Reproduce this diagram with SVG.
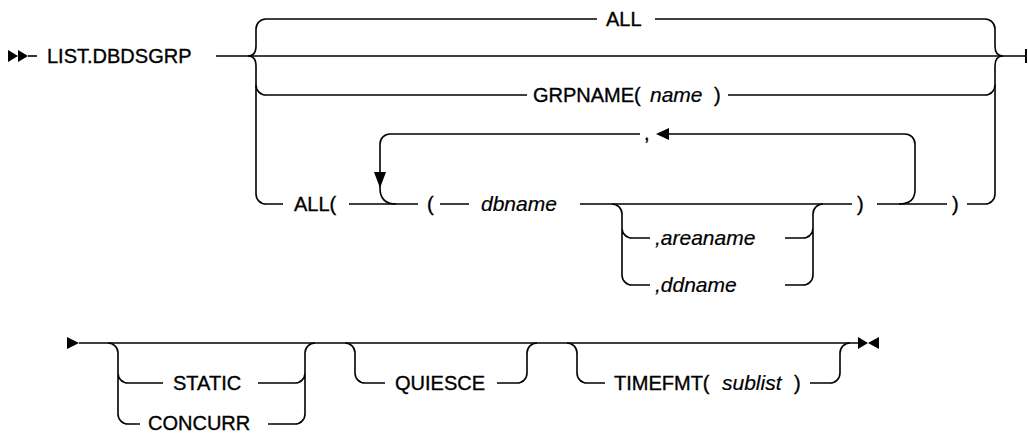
<svg xmlns="http://www.w3.org/2000/svg" width="1028" height="433" viewBox="0 0 1028 433">
<style>
  .ln{fill:none;stroke:#000;stroke-width:1.6}
  .mk{fill:#000;stroke:none}
  text{font-family:"Liberation Sans",Arial,sans-serif;font-size:20px;fill:#000;stroke:#000;stroke-width:0.35}
  .it{font-style:italic;font-size:21px;stroke-width:0.2}
</style>
<rect width="1028" height="433" fill="#fff"/>
<g id="connectors">
  <polygon class="mk" points="8,50 8,62 18,56"/>
  <polygon class="mk" points="18,50 18,62 28,56"/>
  <path class="ln" d="M28 56 H37"/>
  <path class="ln" d="M216 56 H1026"/>
  <path class="ln" d="M1026 49 V63" style="stroke-width:2"/>
  <path class="ln" d="M266 19 A10 10 0 0 0 256 29 V46 Q256 56 248 56 Q256 56 256 66 V85 A10 10 0 0 0 266 95"/>
  <path class="ln" d="M256 85 V194 A10 10 0 0 0 266 204 H283"/>
  <path class="ln" d="M985 19 A10 10 0 0 1 995 29 V46 Q995 56 1003 56 Q995 56 995 66 V85 A10 10 0 0 1 985 95"/>
  <path class="ln" d="M995 85 V194 A10 10 0 0 1 985 204"/>
  <path class="ln" d="M266 19 H597 M655 19 H985"/>
  <path class="ln" d="M266 95 H527 M728 95 H985"/>
  <path class="ln" d="M349 204 H418 M440 204 H469 M580 204 H852 M877 204 H947 M967 204 H985"/>
  <path class="ln" d="M640 134 H390 A10 10 0 0 0 380 144 V188 Q380 204 396 204"/>
  <polygon class="mk" points="374,172 386,172 380,188"/>
  <path class="ln" d="M668 134 H905 A10 10 0 0 1 915 144 V190 Q915 204 899 204"/>
  <polygon class="mk" points="656,134 669,128 669,140"/>
  <path class="ln" d="M612 204 A10 10 0 0 1 622 214 V275 A10 10 0 0 0 632 285 H650 M622 228 A10 10 0 0 0 632 238 H650"/>
  <path class="ln" d="M785 238 H803 A10 10 0 0 0 813 228 M785 285 H803 A10 10 0 0 0 813 275 V214 A10 10 0 0 1 823 204"/>
  <polygon class="mk" points="67,337 67,349 79,343"/>
  <path class="ln" d="M79 343 H858"/>
  <polygon class="mk" points="858,337 858,349 868,343"/>
  <polygon class="mk" points="879,337 879,349 868,343"/>
  <path class="ln" d="M108 343 A10 10 0 0 1 118 353 V414 A10 10 0 0 0 128 424 H140 M118 373 A10 10 0 0 0 128 383 H163"/>
  <path class="ln" d="M258 383 H295 A10 10 0 0 0 305 373 M268 424 H295 A10 10 0 0 0 305 414 V353 A10 10 0 0 1 315 343"/>
  <path class="ln" d="M345 343 A10 10 0 0 1 355 353 V373 A10 10 0 0 0 365 383 H385 M497 383 H517 A10 10 0 0 0 527 373 V353 A10 10 0 0 1 537 343"/>
  <path class="ln" d="M567 343 A10 10 0 0 1 577 353 V373 A10 10 0 0 0 587 383 H605 M810 383 H830 A10 10 0 0 0 840 373 V353 A10 10 0 0 1 850 343"/>
</g>
<g id="n-list"><text x="47" y="63">LIST.DBDSGRP</text></g>
<g id="n-all"><text x="606" y="26">ALL</text></g>
<g id="n-grpname"><text x="533" y="102">GRPNAME(</text><text class="it" x="650" y="102">name</text><text x="714" y="102">)</text></g>
<g id="n-allp"><text x="294" y="211">ALL(</text></g>
<g id="n-lparen"><text x="427" y="211">(</text></g>
<g id="n-dbname"><text class="it" x="481" y="211">dbname</text></g>
<g id="n-comma"><text x="644" y="140">,</text></g>
<g id="n-areaname"><text class="it" x="655" y="245">,areaname</text></g>
<g id="n-ddname"><text class="it" x="655" y="292">,ddname</text></g>
<g id="n-rparen1"><text x="857" y="211">)</text></g>
<g id="n-rparen2"><text x="952" y="211">)</text></g>
<g id="n-static"><text x="173" y="390">STATIC</text></g>
<g id="n-concurr"><text x="148" y="430">CONCURR</text></g>
<g id="n-quiesce"><text x="395" y="390">QUIESCE</text></g>
<g id="n-timefmt"><text x="614" y="390">TIMEFMT(</text><text class="it" x="722" y="390">sublist</text><text x="794" y="390">)</text></g>
</svg>
